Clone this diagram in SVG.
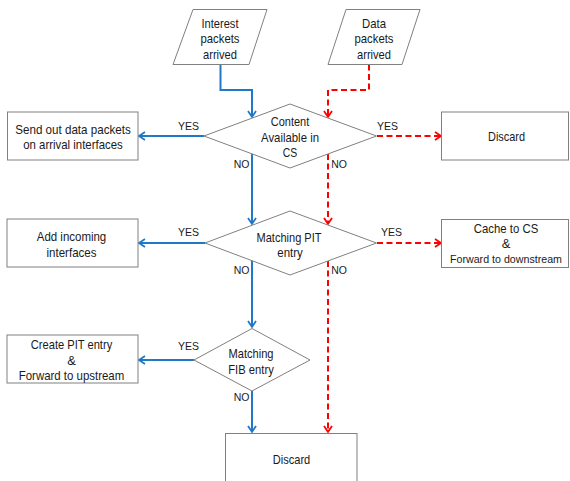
<svg xmlns="http://www.w3.org/2000/svg" width="570" height="481" viewBox="0 0 570 481">
<style>
.shape{fill:#fff;stroke:#808080;stroke-width:1}
.t{font-family:"Liberation Sans",Arial,sans-serif;font-size:13px;fill:#1a1a1a;text-anchor:middle}
.lbl{font-family:"Liberation Sans",Arial,sans-serif;font-size:10.5px;fill:#1a1a1a;text-anchor:middle}
.blue{fill:none;stroke:#1f78c8;stroke-width:2;marker-end:url(#ab)}
.red{fill:none;stroke:#ff0000;stroke-width:2;stroke-dasharray:6,3.5;marker-end:url(#ar)}
</style>
<defs>
<marker id="ab" markerUnits="userSpaceOnUse" viewBox="0 0 8 10" refX="7" refY="5" markerWidth="8" markerHeight="10" orient="auto" overflow="visible">
<path d="M1,1 L7,5 L1,9" fill="none" stroke="#1f78c8" stroke-width="1.8"/>
</marker>
<marker id="ar" markerUnits="userSpaceOnUse" viewBox="0 0 8 10" refX="7" refY="5" markerWidth="8" markerHeight="10" orient="auto" overflow="visible">
<path d="M1,1 L7,5 L1,9" fill="none" stroke="#ff0000" stroke-width="1.8"/>
</marker>
</defs>
<rect width="570" height="481" fill="#fff"/>

<g id="connectors">
<path class="blue" d="M220.5,64.5 V90 H252 V117"/>
<path class="red" d="M369,64.5 V90 H328 V117"/>
<path class="blue" d="M204,136 H139"/>
<path class="red" d="M377,136 H441"/>
<path class="blue" d="M252,154 V224"/>
<path class="red" d="M328,154 V224"/>
<path class="blue" d="M205,243 H139"/>
<path class="red" d="M377,243 H441"/>
<path class="blue" d="M252,261 V327"/>
<path class="red" d="M328,261 V432"/>
<path class="blue" d="M194,360 H139"/>
<path class="blue" d="M252,391 V432"/>
<text class="lbl" x="188.5" y="129.5">YES</text>
<text class="lbl" x="387.5" y="129.5">YES</text>
<text class="lbl" x="241.5" y="168">NO</text>
<text class="lbl" x="339" y="168">NO</text>
<text class="lbl" x="188.5" y="235.5">YES</text>
<text class="lbl" x="391.5" y="236">YES</text>
<text class="lbl" x="241.5" y="274">NO</text>
<text class="lbl" x="339" y="274">NO</text>
<text class="lbl" x="188.5" y="350">YES</text>
<text class="lbl" x="241.5" y="400.5">NO</text>
</g>

<g id="interest">
<polygon class="shape" points="193,9.5 267,9.5 249,64.5 173,64.5"/>
<text class="t" x="220" y="27.5" textLength="37" lengthAdjust="spacingAndGlyphs">Interest</text>
<text class="t" x="220" y="43" textLength="39" lengthAdjust="spacingAndGlyphs">packets</text>
<text class="t" x="220" y="58.5" textLength="34" lengthAdjust="spacingAndGlyphs">arrived</text>
</g>

<g id="data">
<polygon class="shape" points="346,9.5 420,9.5 402,64.5 328,64.5"/>
<text class="t" x="374" y="27.5" textLength="24" lengthAdjust="spacingAndGlyphs">Data</text>
<text class="t" x="374" y="43" textLength="39" lengthAdjust="spacingAndGlyphs">packets</text>
<text class="t" x="374" y="58.5" textLength="34" lengthAdjust="spacingAndGlyphs">arrived</text>
</g>

<g id="cs">
<polygon class="shape" points="290,104 376.5,136 290,168 204,136"/>
<text class="t" x="290" y="125.5" textLength="38.5" lengthAdjust="spacingAndGlyphs">Content</text>
<text class="t" x="290" y="141.5" textLength="58" lengthAdjust="spacingAndGlyphs">Available in</text>
<text class="t" x="290" y="157" textLength="14.5" lengthAdjust="spacingAndGlyphs">CS</text>
</g>

<g id="sendout">
<rect class="shape" x="7.5" y="112" width="130.5" height="48"/>
<text class="t" x="73" y="134" textLength="115.5" lengthAdjust="spacingAndGlyphs">Send out data packets</text>
<text class="t" x="73" y="149" textLength="99.5" lengthAdjust="spacingAndGlyphs">on arrival interfaces</text>
</g>

<g id="discard1">
<rect class="shape" x="441.5" y="112" width="127" height="48"/>
<text class="t" x="506.5" y="140.5" textLength="37" lengthAdjust="spacingAndGlyphs">Discard</text>
</g>

<g id="pit">
<polygon class="shape" points="290,211 376.5,243 290,275 205,243"/>
<text class="t" x="289" y="241.5" textLength="65" lengthAdjust="spacingAndGlyphs">Matching PIT</text>
<text class="t" x="290" y="257" textLength="25.5" lengthAdjust="spacingAndGlyphs">entry</text>
</g>

<g id="addinc">
<rect class="shape" x="7" y="219" width="131" height="48"/>
<text class="t" x="71.5" y="240.5" textLength="69.5" lengthAdjust="spacingAndGlyphs">Add incoming</text>
<text class="t" x="71.5" y="256.5" textLength="50" lengthAdjust="spacingAndGlyphs">interfaces</text>
</g>

<g id="cache">
<rect class="shape" x="441.5" y="219.5" width="127" height="48"/>
<text class="t" x="506" y="233" textLength="64.5" lengthAdjust="spacingAndGlyphs">Cache to CS</text>
<text class="t" x="506" y="248">&amp;</text>
<text class="t" x="506" y="263" font-size="11.5" style="font-size:11.5px" textLength="112" lengthAdjust="spacingAndGlyphs">Forward to downstream</text>
</g>

<g id="fib">
<polygon class="shape" points="252,328.5 310,360 252,391 194,360"/>
<text class="t" x="251" y="357.5" textLength="45" lengthAdjust="spacingAndGlyphs">Matching</text>
<text class="t" x="251" y="373.5" textLength="45.5" lengthAdjust="spacingAndGlyphs">FIB entry</text>
</g>

<g id="createpit">
<rect class="shape" x="7" y="335" width="131" height="48"/>
<text class="t" x="71.5" y="348.5" textLength="81.5" lengthAdjust="spacingAndGlyphs">Create PIT entry</text>
<text class="t" x="71.5" y="364.5">&amp;</text>
<text class="t" x="71.5" y="379.5" textLength="105.5" lengthAdjust="spacingAndGlyphs">Forward to upstream</text>
</g>

<g id="discard2">
<rect class="shape" x="225.5" y="433.5" width="131.5" height="60"/>
<text class="t" x="291.5" y="463.5" textLength="37.5" lengthAdjust="spacingAndGlyphs">Discard</text>
</g>
</svg>
